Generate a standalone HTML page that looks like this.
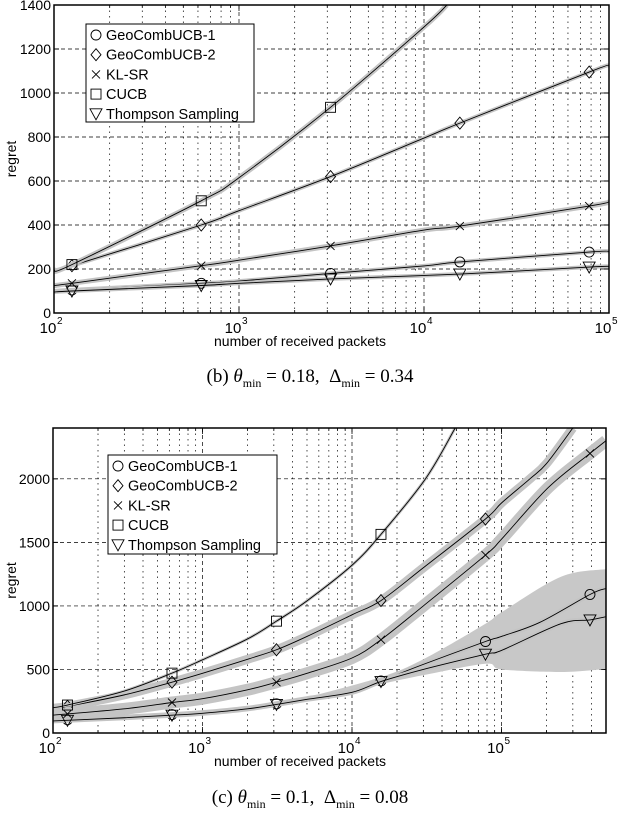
<!DOCTYPE html>
<html><head><meta charset="utf-8"><style>
body{margin:0;background:#fff;width:620px;height:814px;overflow:hidden}
svg{display:block}
.cap{font-family:"Liberation Serif",serif;font-size:19px}
</style></head><body>
<svg id="svg" width="620" height="814" xmlns="http://www.w3.org/2000/svg"></svg>
<script>
// ---------- Chart (b) data ----------
const bSeriesNames = ["GeoCombUCB-1","GeoCombUCB-2","KL-SR","CUCB","Thompson Sampling"];
const bYTicks = [0,200,400,600,800,1000,1200,1400];
const bXTickExp = [2,3,4,5];
const bG1x = [100,125,625,1000,3125,10000,15625,78125,100000];
const bG1y = [100,105,135,145,180,214,232,277,280];
const bG2x = [100,125,625,1000,3125,10000,15625,78125,100000];
const bG2y = [195,215,400,465,620,795,863,1095,1127];
const bKLx = [100,125,625,1000,3125,10000,15625,78125,100000];
const bKLy = [125,135,215,240,305,377,395,486,505];
const bCUx = [100,125,625,1000,3125,10000,13300];
const bCUy = [195,220,510,615,935,1300,1400];
const bTSx = [100,125,625,1000,3125,15625,78125,100000];
const bTSy = [95,100,125,135,155,177,209,212];
const bBand = [4,4,5,5,4];
// ---------- Chart (c) data ----------
const cYTicks = [0,500,1000,1500,2000];
const cXTickExp = [2,3,4,5];
const cG1x = [100,300,625,1000,2000,3125,5000,10000,15625,30000,78125,100000,180000,390625,500000];
const cG1y = [100,125,145,160,195,230,270,325,410,540,720,760,870,1090,1137];
const cG2x = [100,125,300,625,1000,2000,3125,5000,10000,15625,30000,78125,100000,155000,200000,300000];
const cG2y = [195,210,300,400,470,580,655,760,930,1042,1300,1684,1810,2000,2120,2400];
const cKLx = [100,300,625,1000,2000,3125,5000,10000,15625,30000,78125,100000,205000,390625,500000];
const cKLy = [140,190,240,270,340,400,470,590,734,1000,1400,1525,1930,2200,2300];
const cCUx = [100,125,300,625,1000,2000,3125,5000,10000,15625,31000,49000];
const cCUy = [200,220,330,471,576,740,880,1040,1320,1563,2000,2400];
const cTSx = [100,300,625,1000,2000,3125,5000,10000,15625,30000,78125,100000,250000,390625,500000];
const cTSy = [95,120,140,155,190,225,265,320,405,500,620,650,860,890,915];
const cBandHiX = [5000,15625,30000,78125,100000,250000,500000];
const cBandHiY = [280,440,580,860,950,1230,1290];
const cBandLoY = [262,385,455,545,500,480,505];
const cBand = [5,3,9,12];

const NS="http://www.w3.org/2000/svg";
const svg=document.getElementById('svg');
function mk(tag,attrs,parent){const e=document.createElementNS(NS,tag);for(const k in attrs)e.setAttribute(k,attrs[k]);(parent||svg).appendChild(e);return e;}
function interp(xs,ys,x){const lx=Math.log10(x);for(let i=0;i<xs.length-1;i++){const a=Math.log10(xs[i]),b=Math.log10(xs[i+1]);if(lx>=a&&lx<=b){return ys[i]+(ys[i+1]-ys[i])*(lx-a)/(b-a);}}return null;}
function smoothPath(pts){
  if(pts.length<2)return '';
  let d=`M${pts[0][0]},${pts[0][1]}`;
  for(let i=0;i<pts.length-1;i++){
    const p0=pts[i-1]||pts[i],p1=pts[i],p2=pts[i+1],p3=pts[i+2]||p2;
    const c1=[p1[0]+(p2[0]-p0[0])/6,p1[1]+(p2[1]-p0[1])/6];
    const c2=[p2[0]-(p3[0]-p1[0])/6,p2[1]-(p3[1]-p1[1])/6];
    d+=`C${c1[0]},${c1[1]} ${c2[0]},${c2[1]} ${p2[0]},${p2[1]}`;
  }
  return d;
}

function drawMarker(g,type,x,y){
  let e;
  if(type==='o'){e=mk('circle',{cx:x,cy:y,r:5,fill:'none',stroke:'#000','stroke-width':0.9},g);}
  else if(type==='d'){e=mk('polygon',{points:`${x},${y-6} ${x+5},${y} ${x},${y+6} ${x-5},${y}`,fill:'none',stroke:'#000','stroke-width':0.9},g);}
  else if(type==='x'){e=mk('path',{d:`M${x-4},${y-4}L${x+4},${y+4}M${x-4},${y+4}L${x+4},${y-4}`,stroke:'#000','stroke-width':0.9},g);}
  else if(type==='s'){e=mk('rect',{x:x-5,y:y-5,width:10,height:10,fill:'none',stroke:'#000','stroke-width':0.9},g);}
  else {e=mk('polygon',{points:`${x-6},${y-5} ${x+6},${y-5} ${x},${y+6}`,fill:'none',stroke:'#000','stroke-width':0.9},g);}
  
  
}

function chart(cfg){
  const {L,R,T,B,x0,x1,ymax,yTicks,xExp,series,legend,name}=cfg;
  const g=mk('g',{});
  
  
  const X=v=>L+(Math.log10(v)-Math.log10(x0))/(Math.log10(x1)-Math.log10(x0))*(R-L);
  const Y=v=>B-v/ymax*(B-T);
  const clip='clip-'+name;
  const cp=mk('clipPath',{id:clip},g);mk('rect',{x:L,y:T,width:R-L,height:B-T},cp);
  const grid=mk('g',{},g);
  
  
  for(let e=Math.floor(Math.log10(x0));e<=Math.ceil(Math.log10(x1));e++){
    for(let m=1;m<10;m++){const v=m*Math.pow(10,e);if(v<=x0||v>=x1)continue;const x=X(v);
      mk('line',{x1:x,x2:x,y1:T,y2:B,stroke:'#000','stroke-width':0.7,'stroke-dasharray':m===1?'4,3':'1.5,4'},grid);
      mk('line',{x1:x,x2:x,y1:B,y2:B-(m===1?6:3),stroke:'#000','stroke-width':0.8},grid);
      mk('line',{x1:x,x2:x,y1:T,y2:T+(m===1?6:3),stroke:'#000','stroke-width':0.8},grid);}
  }
  yTicks.forEach(t=>{if(t===0)return;const y=Y(t);if(y>T+1)mk('line',{x1:L,x2:R,y1:y,y2:y,stroke:'#000','stroke-width':0.7,'stroke-dasharray':'4,3'},grid);
    mk('line',{x1:L,x2:L+5,y1:y,y2:y,stroke:'#000'},grid);mk('line',{x1:R,x2:R-5,y1:y,y2:y,stroke:'#000'},grid);});
  const sg=mk('g',{'clip-path':`url(#${clip})`},g);
  if(cfg.bigBand){const bb=cfg.bigBand;
    const hi=bb.x.map((v,i)=>[X(v),Y(bb.hi[i])]);
    const lo=bb.x.map((v,i)=>[X(v),Y(bb.lo[i])]).reverse();
    const d=smoothPath(hi)+smoothPath(lo).replace('M','L')+'Z';
    const p=mk('path',{d:d,fill:'#c8c8c8'},sg);
    
    }
  series.forEach(s=>{
    const pts=s.x.map((v,i)=>[X(v),Y(s.y[i])]);
    const d=smoothPath(pts);
    const band=mk('path',{d:d,fill:'none',stroke:'#c4c4c4','stroke-width':s.band,'stroke-linejoin':'round'},sg);
    
    
    const ln=mk('path',{d:d,fill:'none',stroke:'#000','stroke-width':0.9,'stroke-linejoin':'round'},sg);
    
    
    cfg.markX.forEach(mx=>{const v=interp(s.x,s.y,mx);if(v!==null&&v<=ymax)drawMarker(sg,s.m,X(mx),Y(v));});
  });
  mk('rect',{x:L,y:T,width:R-L,height:B-T,fill:'none',stroke:'#000','stroke-width':1.5},g);
  yTicks.forEach(t=>{const tx=mk('text',{x:L-3,y:Y(t)+5,'text-anchor':'end','font-family':'Liberation Sans, sans-serif','font-size':14},g);tx.textContent=t;
    
    });
  xExp.forEach(e=>{const x=X(Math.pow(10,e));const tx=mk('text',{x:x-6,y:B+20,'text-anchor':'middle','font-family':'Liberation Sans, sans-serif','font-size':15},g);
    tx.textContent='10';
    
    
    const sp=mk('text',{x:x+3,y:B+11,'font-family':'Liberation Sans, sans-serif','font-size':10},g);sp.textContent=e;});
  const xl=mk('text',{x:cfg.xlX,y:B+33,'text-anchor':'middle','font-family':'Liberation Sans, sans-serif','font-size':14},g);
  xl.textContent='number of received packets';
  
  
  const yl=mk('text',{x:0,y:0,'text-anchor':'middle','font-family':'Liberation Sans, sans-serif','font-size':14,transform:`translate(16,${(T+B)/2}) rotate(-90)`},g);
  yl.textContent='regret';
  
  
  const lg=mk('g',{},g);
  
  
  mk('rect',{x:legend.x,y:legend.y,width:legend.w,height:legend.h,fill:'#fff',stroke:'#000','stroke-width':1},lg);
  series.forEach((s,i)=>{const cy=legend.y+11+i*legend.dy;
    const it=mk('g',{},lg);
    
    
    drawMarker(it,s.m,legend.x+10,cy);
    const t=mk('text',{x:legend.x+20,y:cy+5,'font-family':'Liberation Sans, sans-serif','font-size':14.5},it);t.textContent=s.label;});
}

chart({name:'chart-b',L:54,R:609,T:5,B:313,x0:100,x1:100000,ymax:1400,yTicks:bYTicks,xExp:bXTickExp,xlX:300,
  markX:[125,625,3125,15625,78125],
  legend:{x:86,y:24,w:168,h:98,dy:19.7},
  series:[
    {id:'geocombucb-1',label:bSeriesNames[0],x:bG1x,y:bG1y,m:'o',band:bBand[0]},
    {id:'geocombucb-2',label:bSeriesNames[1],x:bG2x,y:bG2y,m:'d',band:bBand[1]},
    {id:'kl-sr',label:bSeriesNames[2],x:bKLx,y:bKLy,m:'x',band:bBand[2]},
    {id:'cucb',label:bSeriesNames[3],x:bCUx,y:bCUy,m:'s',band:bBand[3]},
    {id:'thompson-sampling',label:bSeriesNames[4],x:bTSx,y:bTSy,m:'v',band:bBand[4]}]});

chart({name:'chart-c',L:53,R:606,T:428,B:733,x0:100,x1:500000,ymax:2400,yTicks:cYTicks,xExp:cXTickExp,xlX:300,
  markX:[125,625,3125,15625,78125,390625],
  legend:{x:108,y:455,w:169,h:99,dy:19.7},
  bigBand:{x:cBandHiX,hi:cBandHiY,lo:cBandLoY},
  series:[
    {id:'geocombucb-1',label:bSeriesNames[0],x:cG1x,y:cG1y,m:'o',band:cBand[0]},
    {id:'geocombucb-2',label:bSeriesNames[1],x:cG2x,y:cG2y,m:'d',band:cBand[2]},
    {id:'kl-sr',label:bSeriesNames[2],x:cKLx,y:cKLy,m:'x',band:cBand[3]},
    {id:'cucb',label:bSeriesNames[3],x:cCUx,y:cCUy,m:'s',band:cBand[1]},
    {id:'thompson-sampling',label:bSeriesNames[4],x:cTSx,y:cTSy,m:'v',band:cBand[0]}]});
</script>
<div style="position:absolute;left:0;top:366px;width:620px;text-align:center" class="cap">(b) <i>θ</i><sub style="font-size:12px">min</sub> = 0.18, &nbsp;Δ<sub style="font-size:12px">min</sub> = 0.34</div>
<div style="position:absolute;left:0;top:787px;width:620px;text-align:center" class="cap">(c) <i>θ</i><sub style="font-size:12px">min</sub> = 0.1, &nbsp;Δ<sub style="font-size:12px">min</sub> = 0.08</div>
</body></html>
